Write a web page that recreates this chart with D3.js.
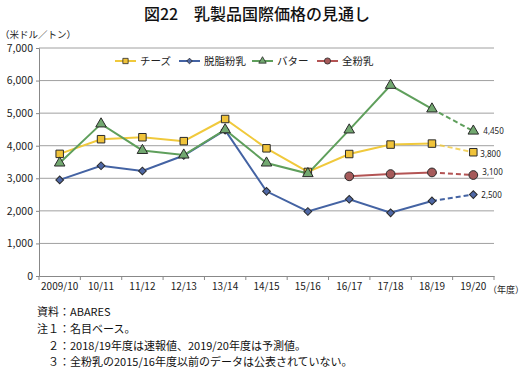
<!DOCTYPE html>
<html>
<head>
<meta charset="utf-8">
<script src="https://cdn.jsdelivr.net/npm/d3@7"></script>
<style>
  body { margin: 0; background: #fff; }
  svg { display: block; font-family: "Noto Sans CJK JP", "Noto Sans", sans-serif; }
</style>
</head>
<body>
<div id="chart"></div>
<script>
// data
const years = ["2009/10", "10/11", "11/12", "12/13", "13/14", "14/15", "15/16", "16/17", "17/18", "18/19", "19/20"];
const cheese = [3750, 4200, 4260, 4140, 4820, 3920, 3195, 3745, 4035, 4065, 3800];
const smp = [2950, 3385, 3225, 3700, 4480, 2600, 1980, 2355, 1940, 2305, 2500];
const butter = [3470, 4670, 3855, 3715, 4490, 3470, 3145, 4485, 5855, 5130, 4450];
const wmp = [null, null, null, null, null, null, null, 3060, 3130, 3180, 3100];
const yTicks = [0, 1000, 2000, 3000, 4000, 5000, 6000, 7000];
const endLabels = ["4,450", "3,800", "3,100", "2,500"];
const notes = ["資料：ABARES", "注１：名目ベース。", "　２：2018/19年度は速報値、2019/20年度は予測値。", "　３：全粉乳の2015/16年度以前のデータは公表されていない。"];

const series = [
  { name: "チーズ", values: cheese, line: "#f0c93c", fill: "#f0c33a", shape: "square" },
  { name: "脱脂粉乳", values: smp, line: "#4463a3", fill: "#4f68a6", shape: "diamond" },
  { name: "バター", values: butter, line: "#5f9f5c", fill: "#72a870", shape: "triangle" },
  { name: "全粉乳", values: wmp, line: "#b35454", fill: "#a65a5a", shape: "circle" }
];

const W = 528, H = 372;
const margin = { top: 48, right: 34, bottom: 96, left: 39 };
const innerW = W - margin.left - margin.right;
const innerH = H - margin.top - margin.bottom;

const svg = d3.select("#chart").append("svg")
  .attr("width", W).attr("height", H);

// title
svg.append("text")
  .attr("x", 257).attr("y", 20)
  .attr("text-anchor", "middle")
  .attr("font-size", 16).attr("font-weight", 500)
  .attr("fill", "#111")
  .text("図22　乳製品国際価格の見通し");

svg.append("text")
  .attr("x", 0).attr("y", 38)
  .attr("font-size", 9.5).attr("fill", "#222")
  .text("（米ドル／トン）");

const g = svg.append("g").attr("transform", `translate(${margin.left},${margin.top})`);

const x = d3.scaleBand().domain(years).range([0, innerW]);
const y = d3.scaleLinear().domain([0, 7000]).range([innerH, 0]);
const cx = d => x(d) + x.bandwidth() / 2;

// grid
g.selectAll(".grid").data(yTicks.slice(1)).enter().append("line")
  .attr("x1", 0).attr("x2", innerW)
  .attr("y1", d => y(d)).attr("y2", d => y(d))
  .attr("stroke", "#a0a0a0").attr("stroke-width", 1);

// y axis
const yAxis = g.append("g")
  .call(d3.axisLeft(y).tickValues(yTicks).tickSize(3).tickPadding(3).tickFormat(d3.format(",")));
yAxis.select(".domain").attr("stroke", "#888");
yAxis.selectAll(".tick line").attr("stroke", "#888");
yAxis.selectAll("text").attr("font-size", 10.5).attr("fill", "#222")
  .attr("font-family", "'Noto Sans CJK JP', sans-serif");

// x axis
const xAxis = g.append("g").attr("transform", `translate(0,${innerH})`)
  .call(d3.axisBottom(x).tickSize(0).tickPadding(7));
xAxis.select(".domain").attr("stroke", "#888");
xAxis.selectAll("text").attr("font-size", 10).attr("fill", "#222")
  .attr("font-family", "'Noto Sans CJK JP', sans-serif");
g.selectAll(".xtick").data(years).enter().append("line")
  .attr("x1", (d, i) => (i + 1) * x.bandwidth()).attr("x2", (d, i) => (i + 1) * x.bandwidth())
  .attr("y1", innerH).attr("y2", innerH + 4)
  .attr("stroke", "#888");
g.append("line").attr("x1", 0).attr("x2", 0).attr("y1", innerH).attr("y2", innerH + 4).attr("stroke", "#888");

svg.append("text")
  .attr("x", 524).attr("y", margin.top + innerH + 17)
  .attr("text-anchor", "end")
  .attr("font-size", 9).attr("fill", "#222")
  .text("（年度）");

// lines
const line = d3.line()
  .defined(d => d.v != null)
  .x(d => cx(d.k)).y(d => y(d.v));

// diamond = square turned 45deg, so it is as wide as it is tall
const sym = {
  square: d3.symbol().type(d3.symbolSquare).size(56),
  diamond: d3.symbol().type(d3.symbolSquare).size(30),
  triangle: d3.symbol().type(d3.symbolTriangle).size(48),
  circle: d3.symbol().type(d3.symbolCircle).size(60)
};
const symSmall = {
  square: d3.symbol().type(d3.symbolSquare).size(28),
  diamond: d3.symbol().type(d3.symbolSquare).size(16),
  triangle: d3.symbol().type(d3.symbolTriangle).size(24),
  circle: d3.symbol().type(d3.symbolCircle).size(30)
};
const rot = s => s.shape === "diamond" ? " rotate(45)" : "";

series.forEach(s => {
  const pts = years.map((k, i) => ({ k: k, v: s.values[i] }));
  const solid = pts.slice(0, pts.length - 1);
  const dashed = pts.slice(pts.length - 2);
  g.append("path").datum(solid)
    .attr("d", line).attr("fill", "none")
    .attr("stroke", s.line).attr("stroke-width", 2);
  g.append("path").datum(dashed)
    .attr("d", line).attr("fill", "none")
    .attr("stroke", s.line).attr("stroke-width", 2)
    .attr("stroke-dasharray", "5,3")
    .attr("opacity", s.shape === "square" ? 0.8 : 1);
});

series.forEach(s => {
  g.selectAll(null).data(years.map((k, i) => ({ k: k, v: s.values[i] })).filter(d => d.v != null))
    .enter().append("path")
    .attr("d", sym[s.shape])
    .attr("transform", d => `translate(${cx(d.k)},${y(d.v)})` + rot(s))
    .attr("fill", s.fill)
    .attr("stroke", "#2a2a2a").attr("stroke-width", 1);
});

// end-point labels (19/20)
const last = years[years.length - 1];
const labelOrder = [butter, cheese, wmp, smp];
const labelDx = [10, 7, 9, 8];
const labelDy = [0, 2, -3, 0];
labelOrder.forEach((vals, i) => {
  g.append("text")
    .attr("x", cx(last) + labelDx[i])
    .attr("y", y(vals[vals.length - 1]) + labelDy[i] + 3)
    .attr("font-size", 8).attr("fill", "#222")
    .attr("font-family", "'Noto Sans', sans-serif")
    .text(endLabels[i]);
});

// legend
const legendX = [115, 179, 252, 317];
const legend = svg.append("g").attr("transform", "translate(0,61)");
series.forEach((s, i) => {
  const lg = legend.append("g").attr("transform", `translate(${legendX[i]},0)`);
  lg.append("line").attr("x1", 0).attr("x2", 21).attr("y1", 0).attr("y2", 0)
    .attr("stroke", s.line).attr("stroke-width", 2);
  lg.append("path").attr("d", symSmall[s.shape]).attr("transform", "translate(10.5,0)" + rot(s))
    .attr("fill", s.fill).attr("stroke", "#2a2a2a").attr("stroke-width", 0.8);
  lg.append("text").attr("x", 25).attr("y", 4)
    .attr("font-size", 10.5).attr("fill", "#222")
    .text(s.name);
});

// notes
svg.selectAll(".note").data(notes).enter().append("text")
  .attr("x", 37).attr("y", (d, i) => 316 + i * 16.8)
  .attr("font-size", 11).attr("fill", "#111")
  .attr("xml:space", "preserve")
  .text(d => d);
</script>
</body>
</html>
